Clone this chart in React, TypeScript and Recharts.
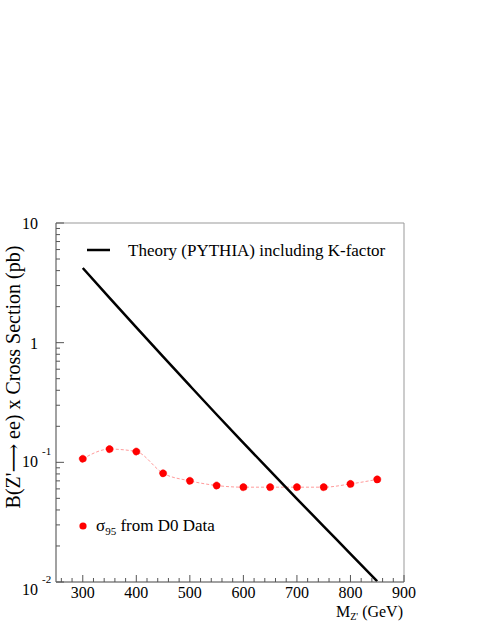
import React from 'react';
import { LineChart, Line, XAxis, YAxis, ReferenceArea } from 'recharts';

// Z' mass points (GeV)
const massGeV = [300, 350, 400, 450, 500, 550, 600, 650, 700, 750, 800, 850];
// Theory (PYTHIA) incl. K-factor, B x sigma (pb)
const theoryPb = [4.21, 2.37, 1.343, 0.764, 0.437, 0.251, 0.1455, 0.0847, 0.0495, 0.0292, 0.01718, 0.01016];
// sigma_95 from D0 data (pb)
const limitPb = [0.107, 0.129, 0.123, 0.081, 0.070, 0.064, 0.062, 0.062, 0.062, 0.062, 0.066, 0.072];

const xMajorTicks = [300, 400, 500, 600, 700, 800, 900];
const xMinorTicks = [260, 280, 320, 340, 360, 380, 420, 440, 460, 480, 520, 540, 560, 580, 620, 640, 660, 680, 720, 740, 760, 780, 820, 840, 860, 880];

const yMajorTicks = [0.01, 0.1, 1, 10];
const yMajorBase = ['10', '10', '1', '10'];
const yMajorExp = ['-2', '-1', '', ''];
const yMinorMantissa = [2, 3, 4, 5, 6, 7, 8, 9];

const yMinorTicks: number[] = [];
[0.01, 0.1, 1].forEach((d) => yMinorMantissa.forEach((m) => yMinorTicks.push(+(d * m).toPrecision(3))));

const data = massGeV.map((m, i) => ({ mass: m, theory: theoryPb[i], limit: limitPb[i] }));

const FONT = '"Liberation Serif", "DejaVu Serif", serif';
const W = 485;
const H = 627;
const X_AXIS_H = 30;
const Y_AXIS_W = 45;
const M = { top: 223, right: 81, bottom: 45 - X_AXIS_H, left: 56 - Y_AXIS_W };

const XTick = (props: any) => {
  const { x, y, payload } = props;
  const v = payload.value;
  const major = xMajorTicks.includes(v);
  return (
    <g>
      <line x1={x} y1={y} x2={x} y2={y - (major ? 7 : 4)} stroke="#555" strokeWidth={1} />
      {major && (
        <text x={x} y={y + 16} textAnchor="middle" fontSize={16} fontFamily={FONT} fill="#000">
          {v}
        </text>
      )}
    </g>
  );
};

const YTick = (props: any) => {
  const { x, y, payload } = props;
  const v = payload.value;
  const idx = yMajorTicks.findIndex((t) => Math.abs(t - v) / t < 1e-6);
  const major = idx >= 0;
  const isBottom = idx === 0;
  const baseY = yMajorExp[idx] ? (isBottom ? y + 13 : y + 5) : y + 6;
  return (
    <g>
      <line x1={x} y1={y} x2={x + (major ? 8 : 4)} y2={y} stroke="#555" strokeWidth={1} />
      {major && (
        <text x={38} y={baseY} textAnchor="end" fontSize={16} fontFamily={FONT} fill="#000">
          {yMajorBase[idx]}
        </text>
      )}
      {major && yMajorExp[idx] && (
        <text x={42} y={baseY - 12} textAnchor="start" fontSize={11} fontFamily={FONT} fill="#000">
          {yMajorExp[idx]}
        </text>
      )}
    </g>
  );
};

export default function App() {
  return (
    <div style={{ position: 'absolute', left: 0, top: 0, width: W, height: H, background: '#fff' }}>
      <LineChart width={W} height={H} data={data} margin={M}>
        <ReferenceArea x1={250} x2={900} y1={0.01} y2={10} fill="none" stroke="#999" strokeWidth={1} ifOverflow="visible" />
        <XAxis
          dataKey="mass"
          type="number"
          domain={[250, 900]}
          ticks={[...xMinorTicks, ...xMajorTicks].sort((a, b) => a - b)}
          interval={0}
          height={X_AXIS_H}
          tickSize={0}
          tickMargin={0}
          tickLine={false}
          axisLine={{ stroke: '#777' }}
          tick={<XTick />}
          allowDataOverflow
        />
        <YAxis
          type="number"
          scale="log"
          domain={[0.01, 10]}
          ticks={[...yMinorTicks, ...yMajorTicks].sort((a, b) => a - b)}
          interval={0}
          width={Y_AXIS_W}
          tickSize={0}
          tickMargin={0}
          tickLine={false}
          axisLine={{ stroke: '#777' }}
          tick={<YTick />}
          allowDataOverflow
        />
        <Line
          type="monotone"
          dataKey="limit"
          stroke="#ff9a9a"
          strokeWidth={1}
          strokeDasharray="3 2"
          dot={{ r: 3.6, fill: '#ff0000', stroke: '#ff0000', strokeWidth: 0.5 }}
          isAnimationActive={false}
        />
        <Line
          type="monotone"
          dataKey="theory"
          stroke="#000"
          strokeWidth={2.5}
          dot={false}
          isAnimationActive={false}
        />
      </LineChart>
      <svg width={W} height={H} style={{ position: 'absolute', left: 0, top: 0, pointerEvents: 'none' }}>
        {/* legend: theory */}
        <line x1={87} y1={250} x2={110} y2={250} stroke="#000" strokeWidth={2.5} />
        <text x={128} y={256} fontSize={17} fontFamily={FONT} fill="#000">
          Theory (PYTHIA) including K-factor
        </text>
        {/* legend: limit */}
        <circle cx={83} cy={526} r={3.6} fill="#ff0000" />
        <text x={96} y={531} fontSize={17} fontFamily={FONT} fill="#000">
          σ<tspan fontSize={11} dy={4}>95</tspan>
          <tspan dy={-4}> from D0 Data</tspan>
        </text>
        {/* x title */}
        <text x={403} y={617} textAnchor="end" fontSize={16} fontFamily={FONT} fill="#000">
          M<tspan fontSize={10} dy={3}>Z'</tspan>
          <tspan dy={-3}> (GeV)</tspan>
        </text>
        {/* y title */}
        <text
          transform="translate(20, 377) rotate(-90)"
          textAnchor="middle"
          fontSize={20}
          fontFamily={FONT}
          fill="#000"
        >
          B(Z'⟶ ee) x Cross Section (pb)
        </text>
      </svg>
    </div>
  );
}
